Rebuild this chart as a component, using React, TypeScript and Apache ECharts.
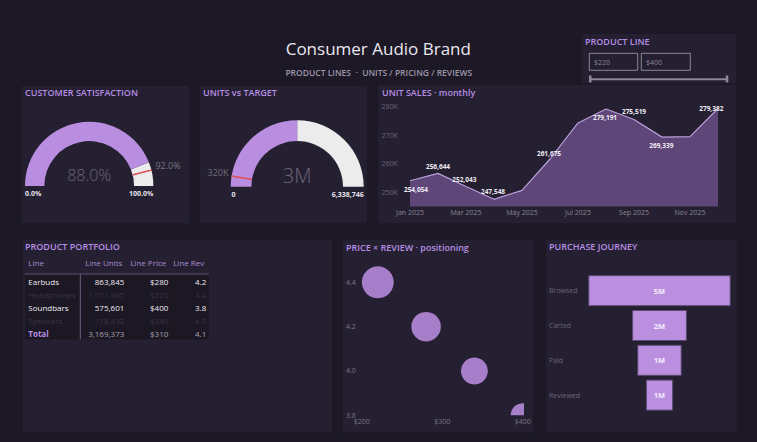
import React, { useEffect, useRef } from 'react';
import * as echarts from 'echarts';

// ---------------- DATA ----------------
const months = ['Jan 2025', 'Feb 2025', 'Mar 2025', 'Apr 2025', 'May 2025', 'Jun 2025', 'Jul 2025', 'Aug 2025', 'Sep 2025', 'Oct 2025', 'Nov 2025', 'Dec 2025'];
const monthlyUnits = [254054, 256644, 252043, 247548, 250700, 261675, 274300, 279191, 275519, 269339, 269500, 279382];
const monthLabelShown = [true, true, true, true, false, true, false, true, true, true, false, true];

const products = ['Earbuds', 'Headphones', 'Soundbars', 'Speakers'];
const productUnits = [863845, 1011495, 575601, 718432];
const productPrice = [280, 220, 400, 340];
const productReview = [4.2, 4.4, 3.8, 4.0];
const productActive = [true, false, true, false];
const tableHeaders = ['Line', 'Line Units', 'Line Price', 'Line Rev'];

const satisfactionValue = 88.0;
const satisfactionTarget = 92.0;
const satisfactionMax = 100;

const unitsValue = 3169373;
const unitsTarget = 320000;
const unitsMax = 6338746;

const journeyStages = ['Browsed', 'Carted', 'Paid', 'Reviewed'];
const journeyValues = [4650000, 1790000, 1450000, 890000];

// ---------------- STYLE ----------------
const FONT = '"Open Sans", "Noto Sans", sans-serif';
const BG = '#1c1825';
const PANEL = '#252031';
const PURPLE = '#b98ee0';
const TITLE = '#b68ee3';
const RED = '#e0525c';
const AXIS_TXT = '#7b7486';

const fmtInt = (v: number) => Math.round(v).toLocaleString('en-US');

function txt(x: number, y: number, text: string, size: number, fill: string, weight: any = 'normal', align = 'left', z = 100) {
  return {
    type: 'text', x, y, z, silent: true,
    style: { text, fill, fontSize: size, fontFamily: FONT, fontWeight: weight, align, textAlign: align, verticalAlign: 'middle', textVerticalAlign: 'middle' },
  };
}
function rect(x: number, y: number, w: number, h: number, fill: string, stroke?: string, lw = 1, z = 0) {
  return { type: 'rect', z, silent: true, shape: { x, y, width: w, height: h }, style: { fill, stroke: stroke || 'none', lineWidth: lw } };
}
function line(x1: number, y1: number, x2: number, y2: number, stroke: string, lw = 1, z = 50) {
  return { type: 'line', z, silent: true, shape: { x1, y1, x2, y2 }, style: { stroke, lineWidth: lw } };
}

function mainGauge(center: number[], radius: number, width: number, value: number, max: number, fontSize: number, formatter: (v: number) => string) {
  return {
    type: 'gauge', center, radius, startAngle: 180, endAngle: 0, min: 0, max,
    pointer: { show: false }, progress: { show: false }, anchor: { show: false },
    axisTick: { show: false }, splitLine: { show: false }, axisLabel: { show: false },
    axisLine: { lineStyle: { width, color: [[value / max, PURPLE], [1, '#ececec']] } },
    title: { show: false },
    detail: { offsetCenter: [0, -11], fontSize, fontFamily: FONT, fontWeight: 300, color: '#6b6478', formatter },
    data: [{ value }], z: 2,
  };
}
function markerGauge(center: number[], radius: number, width: number, frac: number) {
  const ang = 180 - 180 * frac;
  return {
    type: 'gauge', center, radius, startAngle: ang, endAngle: ang - 0.01, min: 0, max: 1, splitNumber: 1,
    axisLine: { show: false, lineStyle: { width: 0 } },
    splitLine: { show: true, length: width, distance: 0, lineStyle: { color: RED, width: 1.2 } },
    axisTick: { show: false }, axisLabel: { show: false }, pointer: { show: false }, progress: { show: false },
    anchor: { show: false }, title: { show: false }, detail: { show: false }, data: [{ value: 0 }], z: 5,
  };
}

function buildOption() {
  const G1 = { cx: 89.2, cy: 186, r: 64.2, w: 19.3 };
  const G2 = { cx: 297.2, cy: 186.7, r: 66.5, w: 20.7 };
  const a1 = Math.PI * (1 - satisfactionTarget / satisfactionMax);
  const a2 = Math.PI * (1 - unitsTarget / unitsMax);
  const o1 = { x: G1.cx + G1.r * Math.cos(a1), y: G1.cy - G1.r * Math.sin(a1) };
  const o2 = { x: G2.cx + G2.r * Math.cos(a2), y: G2.cy - G2.r * Math.sin(a2) };

  const graphics: any[] = [];
  // panels
  graphics.push(rect(21.7, 86, 167.6, 137.3, PANEL));
  graphics.push(rect(200, 86, 166.7, 137.3, PANEL));
  graphics.push(rect(378, 85, 358, 138.3, PANEL));
  graphics.push(rect(22.7, 240, 309, 192.5, PANEL));
  graphics.push(rect(342.7, 240, 190.6, 192.3, PANEL));
  graphics.push(rect(546, 240, 190.7, 192.3, PANEL));
  graphics.push(rect(582, 34, 154, 49, PANEL));

  // header
  graphics.push(txt(378.3, 48.3, 'Consumer Audio Brand', 17, '#ebe7f0', 'normal', 'center'));
  graphics.push(txt(378.8, 72.7, 'PRODUCT LINES  ·  UNITS / PRICING / REVIEWS', 8.5, '#9c95a8', 600, 'center'));

  // panel titles
  graphics.push(txt(25, 92.7, 'CUSTOMER SATISFACTION', 9, TITLE, 600));
  graphics.push(txt(203, 92.7, 'UNITS vs TARGET', 9, TITLE, 600));
  graphics.push(txt(382, 92.7, 'UNIT SALES · monthly', 9, TITLE, 600));
  graphics.push(txt(25, 246.7, 'PRODUCT PORTFOLIO', 9, TITLE, 600));
  graphics.push(txt(346, 247, 'PRICE × REVIEW · positioning', 9, TITLE, 600));
  graphics.push(txt(549, 246.7, 'PURCHASE JOURNEY', 9, TITLE, 600));

  // slicer
  const minP = Math.min(...productPrice);
  const maxP = Math.max(...productPrice);
  graphics.push(txt(585, 41.7, 'PRODUCT LINE', 9, TITLE, 600));
  graphics.push(rect(589.3, 53.3, 48.4, 17, 'none', '#8c8795', 1, 10));
  graphics.push(rect(641.3, 53.3, 49, 17, 'none', '#8c8795', 1, 10));
  graphics.push(txt(594, 62, '$' + minP, 7, '#8a8494'));
  graphics.push(txt(646, 62, '$' + maxP, 7, '#8a8494'));
  graphics.push(line(590, 79.3, 728, 79.3, '#8c8795', 2));
  graphics.push(rect(589, 75.5, 2.5, 7, '#8c8795', undefined, 1, 51));
  graphics.push(rect(725.8, 75.5, 2.5, 7, '#8c8795', undefined, 1, 51));

  // gauge labels
  graphics.push(txt(G1.cx - G1.r, 193.5, '0.0%', 7, '#e8e4ee', 700, 'left'));
  graphics.push(txt(G1.cx + G1.r, 193.5, satisfactionMax.toFixed(1) + '%', 7, '#e8e4ee', 700, 'right'));
  graphics.push(txt(o1.x + 4, o1.y - 4.5, satisfactionTarget.toFixed(1) + '%', 9, '#7b7486', 'normal', 'left'));
  graphics.push(txt(G2.cx - G2.r + 0.8, 194.3, '0', 7, '#e8e4ee', 700, 'left'));
  graphics.push(txt(G2.cx + G2.r, 194.3, fmtInt(unitsMax), 7, '#e8e4ee', 700, 'right'));
  graphics.push(txt(o2.x - 3, o2.y - 3.7, Math.round(unitsTarget / 1000) + 'K', 9, '#6f6878', 'normal', 'right'));

  // table
  const tX0 = 25, tX1 = 209;
  const colX = [28.3, 124.3, 168.3, 206.3];
  const colAlign = ['left', 'right', 'right', 'right'];
  const headY = 262.7;
  const rowY0 = 281.7, rowH = 13;
  graphics.push(rect(tX0, 274, tX1 - tX0, 65.3, '#1b1723', undefined, 1, 5));
  graphics.push(line(tX0, 274, tX1, 274, '#5f5270', 1.2));
  graphics.push(line(80.3, 274, 80.3, 339.3, '#6d6080', 1));
  tableHeaders.forEach((h, i) => {
    graphics.push(txt(i === 0 ? colX[i] : colX[i] - 2, headY, h, 8, '#a98bcf', 'normal', colAlign[i]));
  });
  products.forEach((p, r) => {
    const y = rowY0 + r * rowH;
    const c = productActive[r] ? '#f0ecf4' : '#3a3345';
    const cells = [p, fmtInt(productUnits[r]), '$' + productPrice[r], productReview[r].toFixed(1)];
    cells.forEach((v, i) => graphics.push(txt(colX[i], y, v, 8, c, productActive[r] ? 500 : 'normal', colAlign[i])));
  });
  const totUnits = productUnits.reduce((a, b) => a + b, 0);
  const avgPrice = productPrice.reduce((a, b) => a + b, 0) / productPrice.length;
  const avgRev = productReview.reduce((a, b) => a + b, 0) / productReview.length;
  const totY = rowY0 + products.length * rowH;
  graphics.push(txt(colX[0], totY, 'Total', 8, '#b68ee3', 700, 'left'));
  [fmtInt(totUnits), '$' + Math.round(avgPrice), avgRev.toFixed(1)].forEach((v, i) =>
    graphics.push(txt(colX[i + 1], totY, v, 8, '#a9a3b3', 'normal', colAlign[i + 1])));

  // unit sales label placements (style only): label centre offset from the point
  const labelShift: any[] = [
    [6, 8.3], [0, -7], [-1.7, -7.3], [-1, -8], null, [-1, -5.5], null, [-1, 8], [0, -7.6], [-0.7, 8], null, [-6.7, 0],
  ];
  const salesData = monthlyUnits.map((v, i) => ({
    value: v,
    label: monthLabelShown[i]
      ? { show: true, position: labelShift[i], align: 'center', verticalAlign: 'middle' }
      : { show: false },
  }));

  const journeyMax = Math.max(...journeyValues);

  return {
    animation: false,
    backgroundColor: BG,
    textStyle: { fontFamily: FONT },
    graphic: { elements: graphics },
    grid: [
      { left: 410, right: 39, top: 106.7, bottom: 442 - 206.6 },
      { left: 361.7, right: 757 - 522.7, top: 260.2, bottom: 442 - 415.3 },
      { left: 588.3, width: 142.4, top: 273.3, height: 139.2 },
    ],
    xAxis: [
      {
        gridIndex: 0, type: 'category', data: months, boundaryGap: false,
        axisLine: { show: false }, axisTick: { show: false },
        axisLabel: { interval: 1, color: '#8a8494', fontSize: 7, fontFamily: FONT, margin: 2 },
      },
      {
        gridIndex: 1, type: 'value', min: 200, max: 400, interval: 100,
        axisLine: { show: false }, axisTick: { show: false }, splitLine: { show: false },
        axisLabel: { color: AXIS_TXT, fontSize: 7, fontFamily: FONT, margin: 3, formatter: (v: number) => '$' + v },
      },
      {
        gridIndex: 2, type: 'value', min: 0, max: journeyMax, show: false,
      },
    ],
    yAxis: [
      {
        gridIndex: 0, type: 'value', min: 245000, max: 280000, interval: 5000,
        axisLine: { show: false }, axisTick: { show: false }, splitLine: { show: false },
        axisLabel: { color: '#6a6375', fontSize: 7, fontFamily: FONT, margin: 12.3, formatter: (v: number) => (v % 10000 === 0 ? v / 1000 + 'K' : '') },
      },
      {
        gridIndex: 1, type: 'value', min: 3.8, max: 4.5, interval: 0.2,
        axisLine: { show: false }, axisTick: { show: false }, splitLine: { show: false },
        axisLabel: { color: AXIS_TXT, fontSize: 7, fontFamily: FONT, align: 'left', margin: 15.7, showMaxLabel: false, formatter: (v: number) => v.toFixed(1) },
      },
      {
        gridIndex: 2, type: 'category', data: journeyStages, inverse: true,
        axisLine: { show: false }, axisTick: { show: false }, splitLine: { show: false },
        axisLabel: { color: '#6a6375', fontSize: 7, fontFamily: FONT, align: 'left', margin: 39.3 },
      },
    ],
    series: [
      mainGauge([G1.cx, G1.cy], G1.r, G1.w, satisfactionValue, satisfactionMax, 16, (v: number) => v.toFixed(1) + '%'),
      markerGauge([G1.cx, G1.cy], G1.r, G1.w, satisfactionTarget / satisfactionMax),
      mainGauge([G2.cx, G2.cy], G2.r, G2.w, unitsValue, unitsMax, 20, (v: number) => Math.round(v / 1e6) + 'M'),
      markerGauge([G2.cx, G2.cy], G2.r, G2.w, unitsTarget / unitsMax),
      {
        type: 'line', xAxisIndex: 0, yAxisIndex: 0, data: salesData,
        symbol: 'circle', symbolSize: 0.01, showSymbol: true, showAllSymbol: true,
        itemStyle: { color: 'rgba(0,0,0,0)' },
        smooth: false,
        lineStyle: { color: '#b9a0d9', width: 1.2 },
        areaStyle: { color: '#5f4679', opacity: 1 },
        label: { color: '#f0ecf4', fontSize: 6.5, fontWeight: 700, fontFamily: FONT, formatter: (p: any) => fmtInt(p.value) },
        labelLayout: { hideOverlap: false },
        z: 3,
      },
      {
        type: 'custom', xAxisIndex: 1, yAxisIndex: 1, clip: true, coordinateSystem: 'cartesian2d',
        data: products.map((p, i) => ({ name: p, value: [productPrice[i], productReview[i], productUnits[i]] })),
        encode: { x: 0, y: 1 },
        renderItem: (_params: any, api: any) => {
          const pt = api.coord([api.value(0), api.value(1)]);
          const r = Math.sqrt(api.value(2)) * 0.0159;
          return { type: 'circle', shape: { cx: pt[0], cy: pt[1], r }, style: { fill: '#a67ec9' } };
        },
        z: 3,
      },
      {
        type: 'bar', xAxisIndex: 2, yAxisIndex: 2, stack: 'funnel', barWidth: 31, silent: true,
        data: journeyValues.map((v) => (journeyMax - v) / 2),
        itemStyle: { color: 'transparent' },
      },
      {
        type: 'bar', xAxisIndex: 2, yAxisIndex: 2, stack: 'funnel', barWidth: 31,
        data: journeyValues,
        itemStyle: { color: '#bb8fe0', borderColor: '#5a4870', borderWidth: 1 },
        label: { show: true, position: 'inside', color: '#f4eefb', fontSize: 7.5, fontWeight: 700, fontFamily: FONT, formatter: (p: any) => Math.round(p.value / 1e6) + 'M' },
        z: 3,
      },
    ],
  };
}

export default function App() {
  const ref = useRef<HTMLDivElement>(null);
  useEffect(() => {
    const chart = echarts.init(ref.current!, undefined, { renderer: 'svg' });
    chart.setOption(buildOption() as any);
    return () => chart.dispose();
  }, []);
  return <div ref={ref} style={{ position: 'fixed', left: 0, top: 0, width: 757, height: 442, background: BG }} />;
}
